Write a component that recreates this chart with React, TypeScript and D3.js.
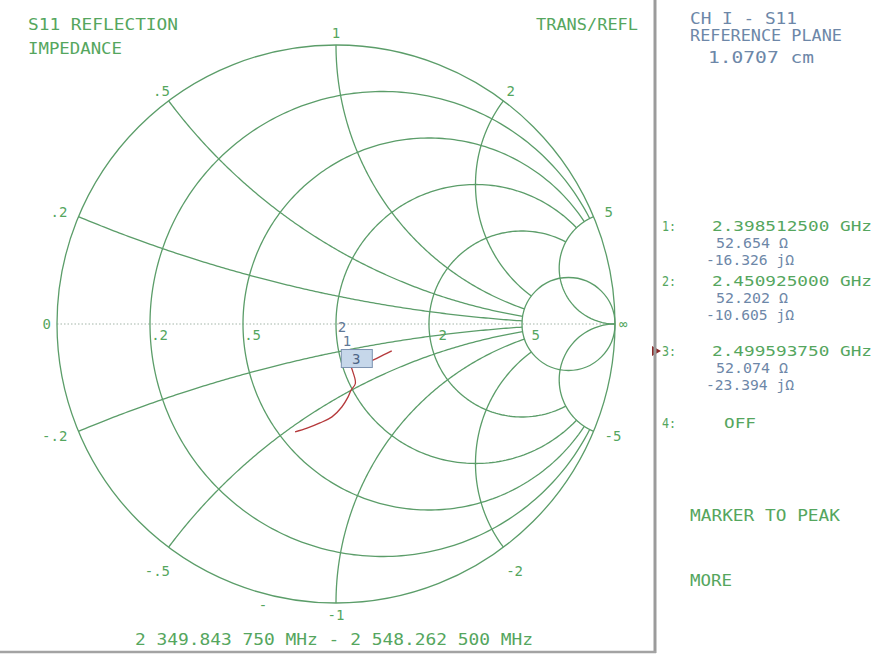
import { useEffect, useRef } from 'react'
import * as d3 from 'd3'

// Smith chart grid (normalised impedance)
const resistanceCircles = [0.2, 0.5, 1, 2] // drawn for |x| <= 5
const fullResistanceCircles = [0, 5]
const reactanceArcs = [0.2, 0.5, 1, 2, -0.2, -0.5, -1, -2] // drawn for r <= 5
const fullReactanceArcs = [5, -5]

const reactanceLabelValues = [1, 2, 0.5, 5, 0.2, -1, -2, -0.5, -5, -0.2]
const reactanceLabelText = ['1', '2', '.5', '5', '.2', '-1', '-2', '-.5', '-5', '-.2']
const resistanceLabelValues = [0.2, 0.5, 2, 5]
const resistanceLabelText = ['.2', '.5', '2', '5']

// S11 trace, ohms (start of sweep first)
const Z0 = 50
const traceR = [73.2, 68.4, 63.0, 57.6, 52.7, 52.2, 53.0, 52.1, 49.5, 47.2, 43.5, 39.0, 35.0, 31.3, 28.3]
const traceX = [-14.8, -15.8, -16.8, -17.0, -16.3, -10.6, -18.9, -23.4, -24.9, -26.6, -28.4, -29.2, -28.5, -27.5, -26.4]

// marker readouts
const markerIds = ['1', '2', '3']
const markerFreq = ['2.398512500 GHz', '2.450925000 GHz', '2.499593750 GHz']
const markerR = [52.654, 52.202, 52.074]
const markerX = [-16.326, -10.605, -23.394]

const GRID = '#5b9d69'
const GREEN = '#55a65e'
const BLUE = '#6d87a8'
const TRACE = '#b5393b'
const FONT = "'DejaVu Sans Mono', monospace"

export default function App() {
  const svgRef = useRef<SVGGElement>(null)

  useEffect(() => {
    if (!svgRef.current) return
    const svg = d3.select(svgRef.current)
    svg.selectAll('*').remove()

    const cx = 336
    const cy = 324
    const rad = 279
    const gx = d3.scaleLinear().domain([-1, 1]).range([cx - rad, cx + rad])
    const gy = d3.scaleLinear().domain([-1, 1]).range([cy + rad, cy - rad])

    // reflection coefficient for z = r + jx
    const gamma = (r: number, x: number): [number, number] => {
      const d = (r + 1) ** 2 + x * x
      return [(r * r + x * x - 1) / d, (2 * x) / d]
    }
    const line = d3
      .line<[number, number]>()
      .x(d => gx(d[0]))
      .y(d => gy(d[1]))

    // real axis, dotted
    svg
      .append('line')
      .attr('x1', gx(-1))
      .attr('x2', gx(1))
      .attr('y1', gy(0))
      .attr('y2', gy(0))
      .attr('stroke', '#a3b5a8')
      .attr('stroke-width', 1)
      .attr('stroke-dasharray', '1.5,2')

    const grid = svg.append('g').attr('fill', 'none').attr('stroke', GRID).attr('stroke-width', 1.3)

    fullResistanceCircles.forEach(r => {
      grid
        .append('circle')
        .attr('cx', gx(r / (1 + r)))
        .attr('cy', gy(0))
        .attr('r', (gx(1) - gx(0)) / (1 + r))
    })

    const lim = Math.atan(5)
    resistanceCircles.forEach(r => {
      const pts = d3.range(0, 301).map(i => gamma(r, Math.tan(-lim + (2 * lim * i) / 300)))
      grid.append('path').attr('d', line(pts))
    })

    reactanceArcs.forEach(x => {
      const pts = d3.range(0, 201).map(i => gamma(Math.tan((lim * i) / 200), x))
      grid.append('path').attr('d', line(pts))
    })

    fullReactanceArcs.forEach(x => {
      const pts = d3.range(0, 200).map(i => gamma(Math.tan((Math.PI / 2) * (i / 200)), x))
      pts.push([1, 0])
      grid.append('path').attr('d', line(pts))
    })

    const label = (x: number, y: number, t: string, anchor: string, color = GREEN) =>
      svg
        .append('text')
        .attr('x', x)
        .attr('y', y)
        .attr('dy', '0.36em')
        .attr('text-anchor', anchor)
        .attr('fill', color)
        .attr('font-family', FONT)
        .attr('font-size', 14)
        .text(t)

    reactanceLabelValues.forEach((x, i) => {
      const [gr, gi] = gamma(0, x)
      const px = gx(gr) + 12 * gr
      // lower-half labels at the diagonal sit a little further out
      const extra = gi < -0.5 && Math.abs(gr) > 0.3 ? 14 : 0
      const py = gy(gi) - 12 * gi + extra
      const anchor = gr < -0.7 ? 'end' : gr > 0.7 ? 'start' : 'middle'
      label(px - (extra ? 4 : 0) * Math.sign(-gr), py, reactanceLabelText[i], anchor)
    })

    resistanceLabelValues.forEach((r, i) => {
      const [gr] = gamma(r, 0)
      label(gx(gr) + 18, gy(0) + 11, resistanceLabelText[i], 'end')
    })
    label(gx(-1) - 6, gy(0), '0', 'end')
    label(gx(1) + 4, gy(0), '\u221e', 'start')
    label(263, 605, '-', 'middle')

    // trace
    const tracePts = traceR.map((r, i) => gamma(r / Z0, traceX[i] / Z0))
    svg
      .append('path')
      .attr('d', line.curve(d3.curveCatmullRom.alpha(0.5))(tracePts))
      .attr('fill', 'none')
      .attr('stroke', TRACE)
      .attr('stroke-width', 1.3)

    // marker annotations
    const mPts = markerR.map((r, i) => gamma(r / Z0, markerX[i] / Z0))
    mPts.forEach(([gr, gi], i) => {
      const px = gx(gr) - 3
      const py = gy(gi) - 25
      if (i === 2) {
        svg
          .append('rect')
          .attr('x', px - 11)
          .attr('y', py - 9)
          .attr('width', 31)
          .attr('height', 18)
          .attr('fill', '#c6d7ea')
          .attr('stroke', '#7c93b1')
          .attr('stroke-width', 1)
        label(px + 4, py, markerIds[i], 'middle', '#4d6585')
      } else {
        label(px, py, markerIds[i], 'middle', '#5f7896')
      }
    })
  }, [])

  const txt = (t: string, x: number, y: number, len: number, color: string, size = 15) => (
    <text
      x={x}
      y={y}
      fill={color}
      fontFamily={FONT}
      fontSize={size}
      textLength={len}
      lengthAdjust="spacingAndGlyphs"
    >
      {t}
    </text>
  )

  const rowY = [231, 286, 356]

  return (
    <div style={{ position: 'absolute', left: 0, top: 0 }}>
      <svg width={879} height={654} style={{ display: 'block', background: '#fff' }}>
        <g ref={svgRef} />
        {txt('S11 REFLECTION', 28, 30, 150, GREEN)}
        {txt('IMPEDANCE', 28, 54, 94, GREEN)}
        {txt('TRANS/REFL', 536, 30, 102, GREEN)}
        {txt('CH I - S11', 690, 24, 107, BLUE)}
        {txt('REFERENCE PLANE', 690, 41, 152, BLUE)}
        {txt('1.0707 cm', 708, 63, 106, BLUE)}
        {txt('2 349.843 750 MHz - 2 548.262 500 MHz', 135, 645, 398, GREEN)}

        {markerIds.map((id, i) => (
          <g key={id}>
            {txt(`${id}:`, 662, rowY[i], 14, GREEN, 14)}
            {txt(markerFreq[i], 712, rowY[i], 160, GREEN, 14)}
            {txt(`${markerR[i].toFixed(3)} \u03a9`, 716, rowY[i] + 17, 72, BLUE, 14)}
            {txt(`${markerX[i].toFixed(3)} j\u03a9`, 706, rowY[i] + 34, 88, BLUE, 14)}
          </g>
        ))}
        <polygon points="652,346 661,351 652,356" fill="#8a2a2a" />
        {txt('4:', 662, 428, 14, GREEN, 14)}
        {txt('OFF', 724, 428, 32, GREEN, 14)}

        {txt('MARKER TO PEAK', 690, 521, 150, GREEN)}
        {txt('MORE', 690, 586, 42, GREEN)}

        <line x1={655} x2={655} y1={0} y2={653} stroke="#9b9b9b" strokeWidth={3} />
        <line x1={0} x2={656} y1={652} y2={652} stroke="#a3a3a3" strokeWidth={2.5} />
      </svg>
    </div>
  )
}
